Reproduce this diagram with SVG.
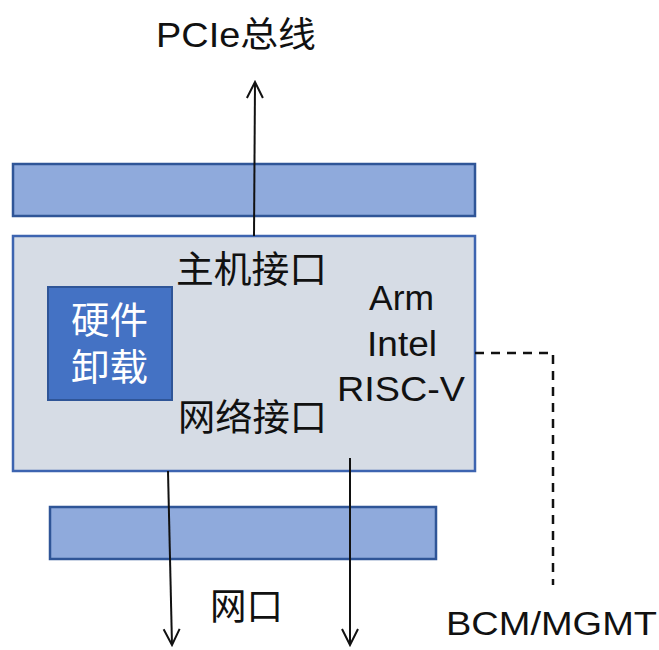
<svg xmlns="http://www.w3.org/2000/svg" width="659" height="650" viewBox="0 0 659 650">
<style>
.bar{fill:#8faadc;stroke:#2f5597;stroke-width:2.5}
.main{fill:#d6dce5;stroke:#3d64b0;stroke-width:2.5}
.hw{fill:#4472c4;stroke:#2f5597;stroke-width:2}
.t{font-family:"Liberation Sans","Noto Sans CJK SC",sans-serif;fill:#111}
.w{fill:#fff}
.ln{stroke:#111;stroke-width:2;fill:none}
.ds{stroke:#111;stroke-width:2.5;fill:none;stroke-dasharray:9,7}
</style>
<defs>
<marker id="ah" viewBox="0 0 20 20" refX="18" refY="10" markerWidth="20" markerHeight="20" markerUnits="userSpaceOnUse" orient="auto">
<path d="M2,2 L18,10 L2,18" fill="none" stroke="#111" stroke-width="2"/>
</marker>
</defs>
<rect width="659" height="650" fill="#fff"/>
<g id="top-bar"><rect class="bar" x="13" y="164" width="462" height="52"/></g>
<g id="chip">
<rect class="main" x="13" y="236" width="462" height="235"/>
<text class="t" x="176" y="283" font-size="37" textLength="151" lengthAdjust="spacingAndGlyphs">主机接口</text>
<text class="t" x="178" y="431" font-size="37" textLength="149" lengthAdjust="spacingAndGlyphs">网络接口</text>
<text class="t" x="369" y="310" font-size="35" textLength="65" lengthAdjust="spacingAndGlyphs">Arm</text>
<text class="t" x="367" y="356" font-size="35" textLength="70" lengthAdjust="spacingAndGlyphs">Intel</text>
<text class="t" x="337" y="401" font-size="35" textLength="128" lengthAdjust="spacingAndGlyphs">RISC-V</text>
</g>
<g id="hw-offload">
<rect class="hw" x="48" y="287" width="124" height="113"/>
<text class="t w" x="71" y="334" font-size="37" textLength="77" lengthAdjust="spacingAndGlyphs">硬件</text>
<text class="t w" x="71" y="381" font-size="37" textLength="77" lengthAdjust="spacingAndGlyphs">卸载</text>
</g>
<g id="bottom-bar"><rect class="bar" x="50" y="507" width="386" height="52"/></g>
<g id="connectors">
<line class="ln" x1="254" y1="236" x2="255" y2="82" marker-end="url(#ah)"/>
<line class="ln" x1="168" y1="471" x2="172" y2="645" marker-end="url(#ah)"/>
<line class="ln" x1="350" y1="458" x2="350" y2="645" marker-end="url(#ah)"/>
<polyline class="ds" points="475,353 553,353 553,585"/>
</g>
<g id="labels">
<text class="t" x="156" y="47" font-size="35" textLength="160" lengthAdjust="spacingAndGlyphs">PCIe总线</text>
<text class="t" x="210" y="620" font-size="37" textLength="73" lengthAdjust="spacingAndGlyphs">网口</text>
<text class="t" x="446" y="635" font-size="34" textLength="211" lengthAdjust="spacingAndGlyphs">BCM/MGMT</text>
</g>
</svg>
